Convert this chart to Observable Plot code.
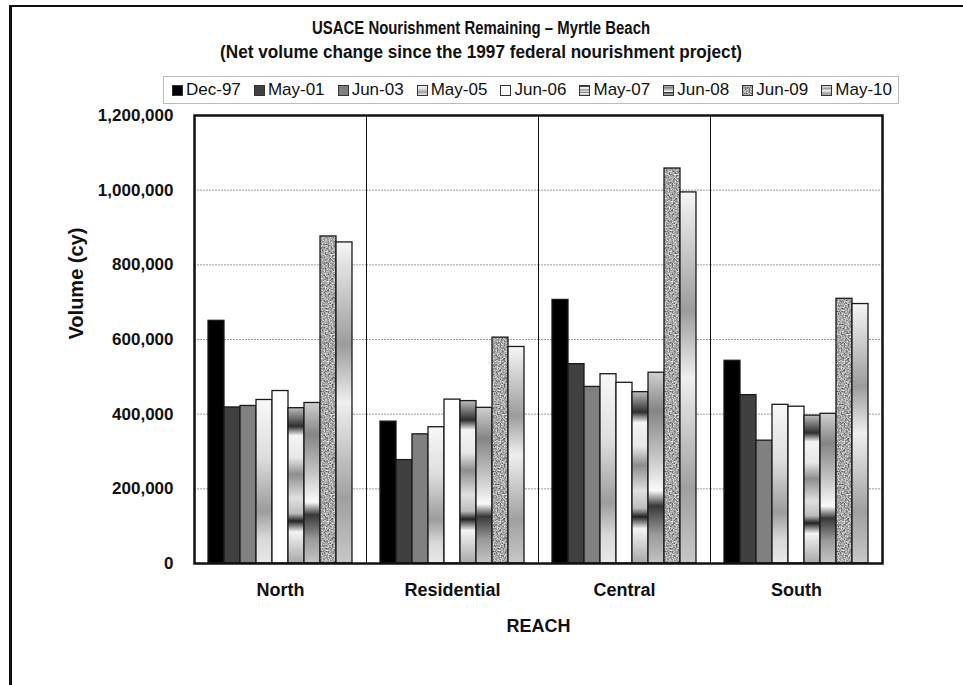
<!DOCTYPE html>
<html>
<head>
<meta charset="utf-8">
<script src="https://cdn.jsdelivr.net/npm/d3@7"></script>
<script src="https://cdn.jsdelivr.net/npm/@observablehq/plot@0.6"></script>
<style>
  html, body { margin: 0; padding: 0; background: #fff; }
  #page { position: relative; width: 963px; height: 685px; overflow: hidden; }
  #outer { position: absolute; left: 9px; top: 5px; width: 1000px; height: 720px;
           border-left: 3px solid #111; border-top: 2.5px solid #111; box-sizing: border-box; pointer-events: none; }
  #header { position: relative; width: 963px; height: 100px; }
  .title { position: absolute; left: 0; width: 963px; text-align: center;
           font-family: "Liberation Sans", Arial, sans-serif;
           font-weight: bold; font-size: 18px; line-height: 24px; color: #111; }
  .title span { display: inline-block; transform-origin: 50% 50%; white-space: nowrap; }
  #legend { position: absolute; left: 163px; top: 76px; width: 736px; height: 28px; z-index: 2;
            border: 1px solid #bbb; box-sizing: border-box; display: flex; align-items: center;
            justify-content: space-between; padding: 0 6px 0 8px; background: transparent;
            font-family: "Liberation Sans", Arial, sans-serif;
            font-size: 17px; line-height: 20px; color: #111; }
  .item { display: flex; align-items: center; white-space: nowrap; }
  .item svg { margin-right: 3px; }
  #chart svg { display: block; }
</style>
</head>
<body>
<svg style="position:absolute;width:0;height:0" aria-hidden="true">
  <defs>
    <linearGradient id="gMay05" x1="0" y1="0" x2="0" y2="1">
      <stop offset="0" stop-color="#f8f8f8"/>
      <stop offset="0.35" stop-color="#dedede"/>
      <stop offset="0.68" stop-color="#9c9c9c"/>
      <stop offset="0.85" stop-color="#d8d8d8"/>
      <stop offset="1" stop-color="#e8e8e8"/>
    </linearGradient>
    <linearGradient id="gMay07" x1="0" y1="0" x2="0" y2="1">
      <stop offset="0" stop-color="#bdbdbd"/>
      <stop offset="0.12" stop-color="#2e2e2e"/>
      <stop offset="0.18" stop-color="#f4f4f4"/>
      <stop offset="0.32" stop-color="#e8e8e8"/>
      <stop offset="0.43" stop-color="#8e8e8e"/>
      <stop offset="0.58" stop-color="#e0e0e0"/>
      <stop offset="0.68" stop-color="#bdbdbd"/>
      <stop offset="0.73" stop-color="#222"/>
      <stop offset="0.8" stop-color="#f4f4f4"/>
      <stop offset="1" stop-color="#a8a8a8"/>
    </linearGradient>
    <linearGradient id="gJun08" x1="0" y1="0" x2="0" y2="1">
      <stop offset="0" stop-color="#d0d0d0"/>
      <stop offset="0.2" stop-color="#858585"/>
      <stop offset="0.45" stop-color="#c8c8c8"/>
      <stop offset="0.62" stop-color="#fafafa"/>
      <stop offset="0.7" stop-color="#383838"/>
      <stop offset="0.85" stop-color="#9a9a9a"/>
      <stop offset="1" stop-color="#c4c4c4"/>
    </linearGradient>
    <linearGradient id="gMay10" x1="0" y1="0" x2="0" y2="1">
      <stop offset="0" stop-color="#f6f6f6"/>
      <stop offset="0.32" stop-color="#9c9c9c"/>
      <stop offset="0.5" stop-color="#efefef"/>
      <stop offset="0.8" stop-color="#a0a0a0"/>
      <stop offset="1" stop-color="#c8c8c8"/>
    </linearGradient>
    <filter id="noise" x="0" y="0" width="100%" height="100%" color-interpolation-filters="sRGB">
      <feTurbulence type="fractalNoise" baseFrequency="0.7" numOctaves="2" seed="4" result="t"/>
      <feColorMatrix in="t" type="matrix"
        values="0.33 0.33 0.33 0 0  0.33 0.33 0.33 0 0  0.33 0.33 0.33 0 0  0 0 0 0 1"/>
      <feComponentTransfer>
        <feFuncR type="linear" slope="2.0" intercept="-0.34"/>
        <feFuncG type="linear" slope="2.0" intercept="-0.34"/>
        <feFuncB type="linear" slope="2.0" intercept="-0.34"/>
      </feComponentTransfer>
    </filter>
    <pattern id="granite" patternUnits="userSpaceOnUse" width="80" height="80">
      <rect width="80" height="80" fill="#bbb" filter="url(#noise)"/>
    </pattern>
  </defs>
</svg>
<div id="page">
  <div id="header">
    <div class="title" style="top:16px"><span id="t1">USACE Nourishment Remaining – Myrtle Beach</span></div>
    <div class="title" style="top:40px"><span id="t2">(Net volume change since the 1997 federal nourishment project)</span></div>
    <div id="legend"></div>
  </div>
  <div id="chart"></div>
  <div id="outer"></div>
</div>
<script>
// ---- data ----
const reaches = ["North", "Residential", "Central", "South"];
const series = ["Dec-97", "May-01", "Jun-03", "May-05", "Jun-06", "May-07", "Jun-08", "Jun-09", "May-10"];
const dec97 = [650000, 380000, 706000, 543000];
const may01 = [418000, 277000, 534000, 451000];
const jun03 = [422000, 346000, 473000, 329000];
const may05 = [438000, 365000, 507000, 425000];
const jun06 = [462000, 439000, 484000, 420000];
const may07 = [416000, 435000, 459000, 396000];
const jun08 = [430000, 417000, 511000, 401000];
const jun09 = [876000, 605000, 1058000, 709000];
const may10 = [860000, 580000, 994000, 695000];
const yTicks = [0, 200000, 400000, 600000, 800000, 1000000, 1200000];

const seriesValues = [dec97, may01, jun03, may05, jun06, may07, jun08, jun09, may10];
const fills = ["#000000", "#404040", "#808080", "url(#gMay05)", "#ffffff", "url(#gMay07)", "url(#gJun08)", "url(#granite)", "url(#gMay10)"];
const fillOf = Object.fromEntries(series.map((s, i) => [s, fills[i]]));

const rows = [];
series.forEach((s, i) => reaches.forEach((r, j) => rows.push({reach: r, series: s, value: seriesValues[i][j]})));

// ---- title widths (condensed look of the reference) ----
function fitWidth(id, target) {
  const el = document.getElementById(id);
  const w = el.getBoundingClientRect().width;
  if (w > 0) el.style.transform = `scaleX(${target / w})`;
}
fitWidth("t1", 338);
fitWidth("t2", 522);

// ---- legend ----
const legend = document.getElementById("legend");
series.forEach((s, i) => {
  const it = document.createElement("div");
  it.className = "item";
  it.innerHTML = `<svg width="11" height="11"><rect x="0.5" y="0.5" width="10" height="10" fill="${fills[i]}" stroke="#333" stroke-width="1"/></svg><span>${s}</span>`;
  legend.appendChild(it);
});

// ---- chart ----
const bold = {fontWeight: "bold"};
const chart = Plot.plot({
  width: 963,
  height: 585,
  marginLeft: 193,
  marginRight: 81,
  marginTop: 15,
  marginBottom: 122,
  style: {fontFamily: "'Liberation Sans', Arial, sans-serif", color: "#111", background: "transparent"},
  fx: {domain: reaches, padding: 0, label: null, axis: null},
  x: {domain: series, paddingInner: 0, paddingOuter: 0.75, axis: null},
  y: {domain: [0, 1200000], label: null, axis: null},
  color: {type: "identity"},
  marks: [
    Plot.gridY(yTicks, {stroke: "#9a9a9a", strokeOpacity: 1, strokeWidth: 1, strokeDasharray: "2,1"}),
    Plot.barY(rows, {fx: "reach", x: "series", y: "value", fill: d => fillOf[d.series],
      stroke: "#1a1a1a", strokeWidth: 1.3}),
    Plot.frame({stroke: "#111", strokeWidth: 1}),
    Plot.frame({stroke: "#111", strokeWidth: 2.5, facet: "super"}),
    Plot.axisY(yTicks, {tickSize: 0, tickPadding: 21, tickFormat: d3.format(","), fontSize: 17, fontWeight: "bold", label: null}),
    Plot.text(reaches, {fx: d => d, frameAnchor: "bottom", dy: 32, fontSize: 18, ...bold}),
    Plot.text(["Volume (cy)"], {frameAnchor: "left", dx: -118, rotate: -90, fontSize: 20, ...bold, facet: "super"}),
    Plot.text(["REACH"], {frameAnchor: "bottom", dy: 68, fontSize: 18, ...bold, facet: "super"})
  ]
});
document.getElementById("chart").appendChild(chart);
</script>
</body>
</html>
